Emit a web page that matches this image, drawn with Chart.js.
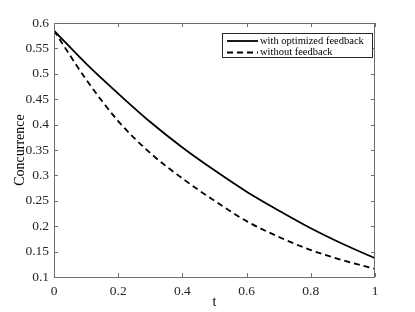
<!DOCTYPE html>
<html>
<head>
<meta charset="utf-8">
<script src="https://cdn.jsdelivr.net/npm/chart.js@4.4.0/dist/chart.umd.min.js"></script>
<style>
  html, body { margin: 0; padding: 0; background: #fff; }
</style>
</head>
<body>
<canvas id="chart" width="415" height="312"></canvas>
<script>
// values
const tValues = [0, 0.1, 0.2, 0.3, 0.4, 0.5, 0.6, 0.7, 0.8, 0.9, 1];
const withFeedback = [0.585, 0.520, 0.461, 0.405, 0.355, 0.310, 0.268, 0.231, 0.196, 0.165, 0.137];
const withoutFeedback = [0.585, 0.489, 0.407, 0.344, 0.294, 0.250, 0.210, 0.179, 0.153, 0.133, 0.116];
const xTicks = [0, 0.2, 0.4, 0.6, 0.8, 1];
const yTicks = [0.1, 0.15, 0.2, 0.25, 0.3, 0.35, 0.4, 0.45, 0.5, 0.55, 0.6];

const serif = "'Liberation Serif', 'DejaVu Serif', serif";
const axisColor = '#6e6e6e';
const textColor = '#262626';

function toPoints(ys) {
    return tValues.map((t, i) => ({ x: t, y: ys[i] }));
}

// box with inward ticks on all four sides, plus the boxed legend
const framePlugin = {
    id: 'frame',
    afterDraw(chart) {
        const { ctx, chartArea: a, scales: { x, y } } = chart;
        ctx.save();
        ctx.strokeStyle = axisColor;
        ctx.lineWidth = 1;
        ctx.strokeRect(a.left + 0.5, a.top + 0.5, a.right - a.left - 1, a.bottom - a.top);
        const len = 4;
        ctx.beginPath();
        x.ticks.forEach(t => {
            const px = Math.round(x.getPixelForValue(t.value)) + 0.5;
            ctx.moveTo(px, a.bottom); ctx.lineTo(px, a.bottom - len);
            ctx.moveTo(px, a.top); ctx.lineTo(px, a.top + len);
        });
        y.ticks.forEach(t => {
            const py = Math.round(y.getPixelForValue(t.value)) + 0.5;
            ctx.moveTo(a.left, py); ctx.lineTo(a.left + len, py);
            ctx.moveTo(a.right, py); ctx.lineTo(a.right - len, py);
        });
        ctx.stroke();

        // legend
        const lx = 222, ly = 33, lw = 150, lh = 24;
        ctx.fillStyle = '#fff';
        ctx.fillRect(lx, ly, lw, lh);
        ctx.strokeStyle = textColor;
        ctx.strokeRect(lx + 0.5, ly + 0.5, lw, lh);
        ctx.font = '10.5px ' + serif;
        ctx.textBaseline = 'middle';
        chart.data.datasets.forEach((ds, i) => {
            const yy = ly + 8 + i * 11.5;
            ctx.strokeStyle = ds.borderColor;
            ctx.lineWidth = ds.borderWidth;
            ctx.setLineDash(ds.borderDash || []);
            ctx.beginPath();
            ctx.moveTo(lx + 5, yy);
            ctx.lineTo(lx + 36, yy);
            ctx.stroke();
            ctx.setLineDash([]);
            ctx.fillStyle = '#000';
            ctx.fillText(ds.label, lx + 38, yy);
        });
        ctx.restore();
    }
};

new Chart(document.getElementById('chart'), {
    type: 'line',
    data: {
        datasets: [{
            label: 'with optimized feedback',
            data: toPoints(withFeedback),
            borderColor: '#000',
            borderWidth: 1.8,
            pointRadius: 0,
            fill: false,
            cubicInterpolationMode: 'monotone'
        }, {
            label: 'without feedback',
            data: toPoints(withoutFeedback),
            borderColor: '#000',
            borderWidth: 1.8,
            borderDash: [6, 4],
            pointRadius: 0,
            fill: false,
            cubicInterpolationMode: 'monotone'
        }]
    },
    options: {
        responsive: false,
        animation: false,
        layout: { padding: { top: 23, right: 40, left: 0, bottom: 0 } },
        plugins: {
            legend: { display: false },
            tooltip: { enabled: false }
        },
        scales: {
            x: {
                type: 'linear',
                min: 0,
                max: 1,
                afterBuildTicks: s => { s.ticks = xTicks.map(v => ({ value: v })); },
                afterFit: s => { s.height = 35; },
                grid: { display: false, drawTicks: false },
                border: { display: false },
                ticks: {
                    padding: 6,
                    maxRotation: 0,
                    color: textColor,
                    font: { family: serif, size: 13.5 },
                    callback: v => String(v)
                },
                title: {
                    display: true,
                    text: 't',
                    color: '#000',
                    font: { family: serif, size: 14 },
                    padding: { top: 0, bottom: 1 }
                }
            },
            y: {
                min: 0.1,
                max: 0.6,
                afterBuildTicks: s => { s.ticks = yTicks.map(v => ({ value: v })); },
                afterFit: s => { s.width = 54; },
                grid: { display: false, drawTicks: false },
                border: { display: false },
                ticks: {
                    padding: 5,
                    color: textColor,
                    font: { family: serif, size: 13.5 },
                    callback: v => String(v)
                },
                title: {
                    display: true,
                    text: 'Concurrence',
                    color: '#000',
                    font: { family: serif, size: 14 },
                    padding: { top: 12, bottom: 0 }
                }
            }
        }
    },
    plugins: [framePlugin]
});
</script>
</body>
</html>
